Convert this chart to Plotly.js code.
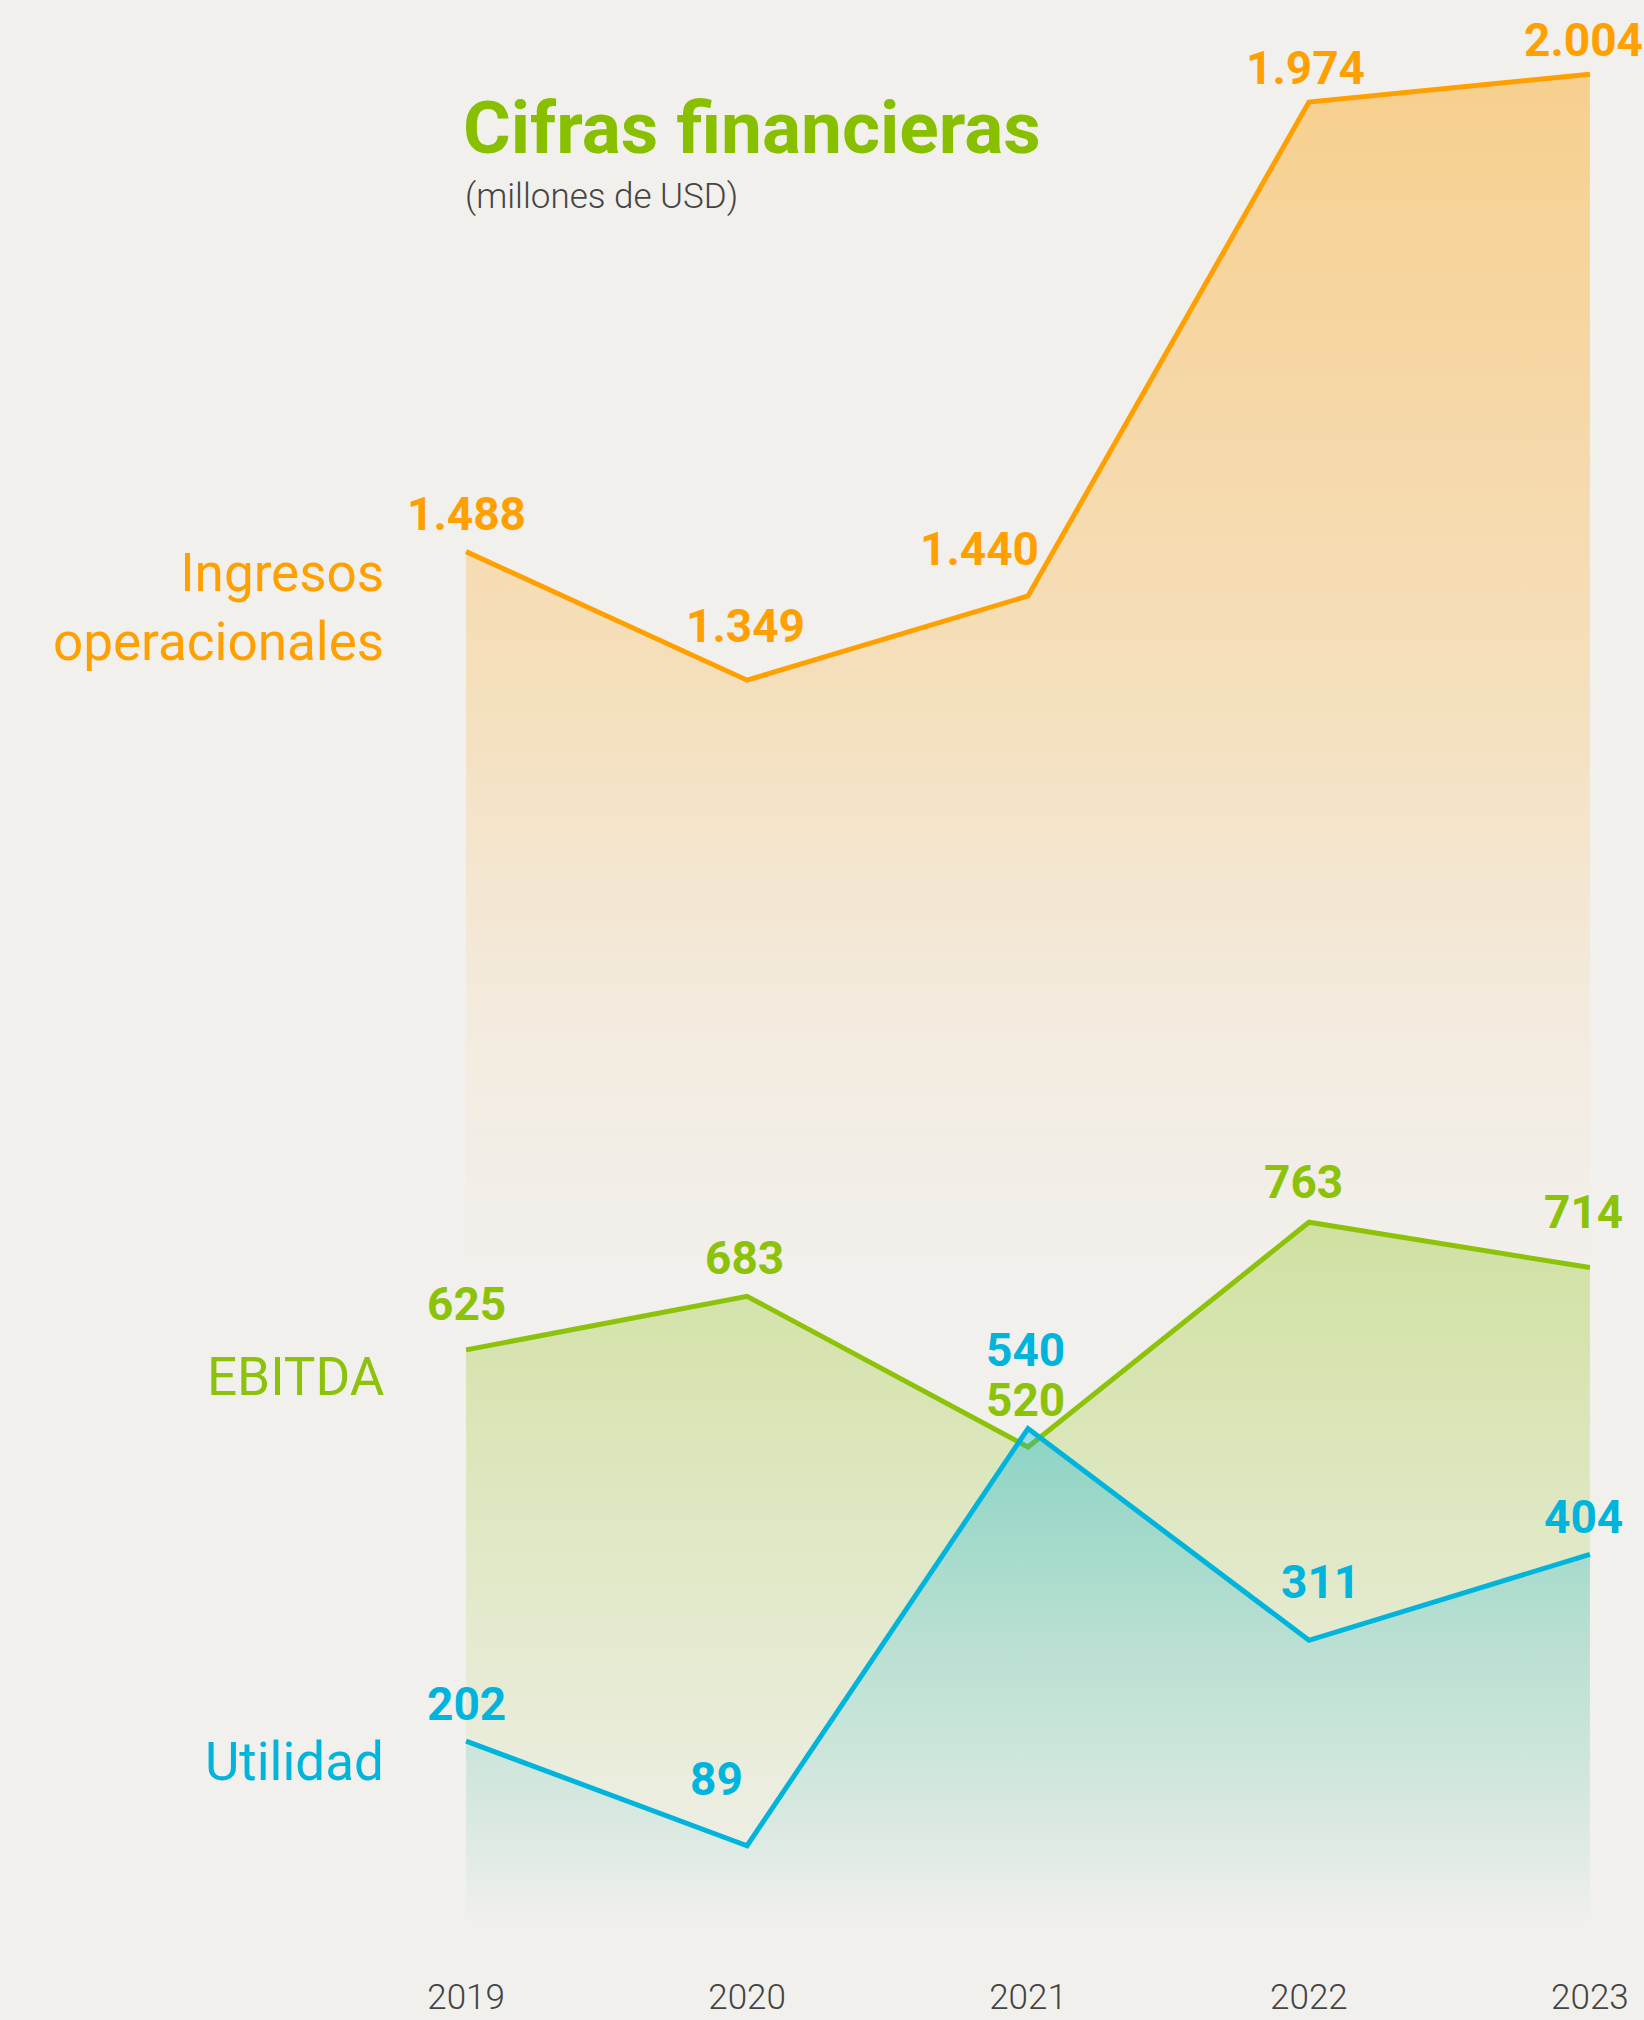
<!DOCTYPE html>
<html>
<head>
<meta charset="utf-8">
<script src="https://cdn.plot.ly/plotly-3.0.1.min.js"></script>
<style>
  html, body { margin: 0; padding: 0; background: #F2F0ED; }
  #chart { width: 1644px; height: 2020px; }
</style>
</head>
<body>
<div id="chart"></div>
<script>
// ---- data ----
const years = [2019, 2020, 2021, 2022, 2023];
const yearLabels = ['2019', '2020', '2021', '2022', '2023'];
const ingresos = [1488, 1349, 1440, 1974, 2004];
const ebitda = [625, 683, 520, 763, 714];
const utilidad = [202, 89, 540, 311, 404];
const seriesNames = ['Ingresos<br>operacionales', 'EBITDA', 'Utilidad'];
const titleText = 'Cifras financieras';
const subtitleText = '(millones de USD)';

// ---- styles / layout helpers ----
const W = 1644, H = 2020;
const M = { l: 438, r: 26, t: 20, b: 47 };
const plotH = H - M.t - M.b;
const colors = ['#FF9F00', '#8CC20A', '#00B4DC'];
const rgb = ['255,159,0', '140,194,10', '0,180,220'];
const alphaStops = [
  [[0, 0], [0.35, 0], [0.5, 0.07], [0.67, 0.21], [1, 0.40]],
  [[0, 0], [0.15, 0.05], [0.5, 0.16], [1, 0.33]],
  [[0, 0], [0.2, 0.08], [0.6, 0.2], [1, 0.36]]
];
// label offsets in pixels (dx right, up)
const labelDx = [[0, -2, -49, -3, -6], [0, -3, -3, -5, -6], [0, -31, -3, 12, -6]];
const labelUp = [[38, 54, 47, 34, 34], [46, 38, 47, 40, 56], [37, 67, 79, 58, 37]];
const catLabelY = [608, 1377, 1762]; // pixel centres
const catLabelRight = 386;

function fmt(v) { return String(v).replace(/\B(?=(\d{3})+(?!\d))/g, '.'); }
function paperY(py) { return (H - M.b - py) / plotH; }
function paperX(px) { return (px - M.l) / (W - M.l - M.r); }

const allSeries = [ingresos, ebitda, utilidad];
const traces = allSeries.map((vals, i) => ({
  type: 'scatter',
  mode: 'lines',
  x: years,
  y: vals,
  line: { color: colors[i], width: 5, shape: 'linear' },
  fill: 'tozeroy',
  fillgradient: {
    type: 'vertical',
    start: 0,
    stop: Math.max(...vals),
    colorscale: alphaStops[i].map(s => [s[0], 'rgba(' + rgb[i] + ',' + s[1] + ')'])
  },
  hoverinfo: 'skip',
  showlegend: false
}));

const annotations = [];
allSeries.forEach((vals, i) => {
  vals.forEach((v, j) => {
    annotations.push({
      x: years[j], y: v, xref: 'x', yref: 'y',
      text: fmt(v), showarrow: false,
      xanchor: 'center', yanchor: 'middle',
      xshift: labelDx[i][j], yshift: labelUp[i][j],
      font: { family: 'Roboto, sans-serif', size: 46, weight: 700, color: colors[i] }
    });
  });
  annotations.push({
    x: paperX(catLabelRight), y: paperY(catLabelY[i]), xref: 'paper', yref: 'paper',
    text: seriesNames[i], showarrow: false, align: 'right',
    xanchor: 'right', yanchor: 'middle',
    font: { family: 'Roboto, sans-serif', size: 53, weight: 400, color: colors[i] }
  });
});
annotations.push({
  x: paperX(463), y: paperY(196), xref: 'paper', yref: 'paper',
  text: subtitleText, showarrow: false, xanchor: 'left', yanchor: 'middle',
  font: { family: 'Roboto, sans-serif', size: 35, weight: 300, color: '#454545' }
});

const layout = {
  width: W, height: H,
  margin: M,
  paper_bgcolor: '#F2F0ED',
  plot_bgcolor: 'rgba(0,0,0,0)',
  title: {
    text: titleText,
    x: 463 / W, xref: 'container', xanchor: 'left',
    y: 1 - 127 / H, yref: 'container', yanchor: 'middle',
    font: { family: 'Roboto, sans-serif', size: 73, weight: 700, color: '#88C000' }
  },
  xaxis: {
    range: [2018.9, 2023.1],
    tickvals: years, ticktext: yearLabels,
    showgrid: false, zeroline: false, showline: false, ticks: '',
    tickfont: { family: 'Roboto, sans-serif', size: 35, weight: 300, color: '#444444' },
    fixedrange: true
  },
  yaxis: {
    range: [-48.6, 2062.7],
    visible: false, showgrid: false, zeroline: false, fixedrange: true
  },
  annotations: annotations
};

Plotly.newPlot('chart', traces, layout, { displayModeBar: false, staticPlot: true });
</script>
</body>
</html>
